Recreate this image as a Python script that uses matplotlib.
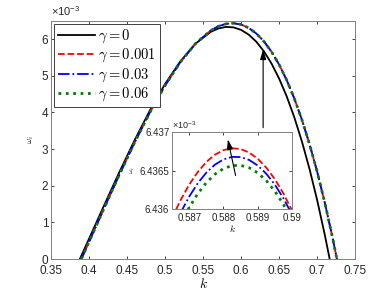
import matplotlib
matplotlib.use("Agg")
import matplotlib.pyplot as plt

plt.rcParams["font.family"] = ["Liberation Sans", "DejaVu Sans"]
plt.rcParams["mathtext.fontset"] = "cm"

# growth rate omega_i (units of 1e-3) against wavenumber k
k_main = [0.388, 0.40, 0.42, 0.44, 0.46, 0.48, 0.50, 0.52, 0.54, 0.56, 0.57, 0.58,
          0.59, 0.60, 0.61, 0.62, 0.63, 0.64, 0.65, 0.66, 0.67, 0.68, 0.69, 0.70,
          0.71, 0.7165]
w_gamma0 = [0.0, 0.550, 1.470, 2.375, 3.243, 4.052, 4.776, 5.393, 5.876, 6.199, 6.292,
            6.335, 6.323, 6.254, 6.125, 5.932, 5.670, 5.336, 4.927, 4.439, 3.867,
            3.207, 2.457, 1.612, 0.668, 0.0]

k_gamma = [0.390, 0.40, 0.42, 0.44, 0.46, 0.48, 0.50, 0.52, 0.54, 0.56, 0.57, 0.58,
           0.5884, 0.59, 0.60, 0.61, 0.62, 0.63, 0.64, 0.65, 0.66, 0.67, 0.68, 0.69,
           0.70, 0.71, 0.72, 0.726]
# gamma = 0.001, 0.03, 0.06 coincide at this scale
w_gamma = [0.0, 0.464, 1.392, 2.304, 3.180, 3.998, 4.735, 5.370, 5.878, 6.236, 6.351,
           6.418, 6.4365, 6.436, 6.401, 6.309, 6.156, 5.941, 5.659, 5.308, 4.883,
           4.382, 3.801, 3.137, 2.386, 1.544, 0.608, 0.0]

# zoom near the maximum
k_zoom = [0.5865, 0.58675, 0.5870, 0.58725, 0.5875, 0.58775, 0.5880, 0.58825,
          0.5885, 0.58875, 0.5890, 0.58925, 0.5895, 0.58975, 0.5900]
w_zoom_001 = [6.435883, 6.436117, 6.436317, 6.436481, 6.436611, 6.436705, 6.436765,
              6.436789, 6.436779, 6.436733, 6.436653, 6.436537, 6.436387, 6.436201,
              6.435981]
w_zoom_03 = [6.435711, 6.435954, 6.436162, 6.436335, 6.436473, 6.436576, 6.436644,
             6.436677, 6.436675, 6.436637, 6.436565, 6.436458, 6.436316, 6.436139,
             6.435927]
w_zoom_06 = [6.435559, 6.435808, 6.436021, 6.436200, 6.436343, 6.436452, 6.436525,
             6.436564, 6.436567, 6.436536, 6.436469, 6.436368, 6.436231, 6.436060,
             6.435853]

labels = [r"$\gamma = 0$", r"$\gamma = 0.001$", r"$\gamma = 0.03$", r"$\gamma = 0.06$"]
styles = [("black", "-", 1.3), ("#ff0000", "--", 1.3), ("#0000ff", "-.", 1.3),
          ("#008000", ":", 2.0)]
axcol = "#262626"


def style_axes(a, size, xpad=2):
    a.tick_params(direction="in", top=True, right=True, length=2.5, width=0.6,
                  labelsize=size, colors=axcol, pad=2)
    a.tick_params(axis="x", pad=xpad)
    for s in a.spines.values():
        s.set_color("#808080")
        s.set_linewidth(0.7)


fig = plt.figure(figsize=(3.92, 2.94), dpi=100)
ax = fig.add_axes([0.130, 0.119, 0.776, 0.810])

ax.plot(k_main, w_gamma0, color=styles[0][0], ls=styles[0][1], lw=styles[0][2], label=labels[0])
for (c, ls, lw), lab in zip(styles[1:], labels[1:]):
    ax.plot(k_gamma, w_gamma, color=c, ls=ls, lw=lw, label=lab)

ax.set_xlim(0.35, 0.75)
ax.set_ylim(0, 6.5)
ax.set_xticks([0.35, 0.4, 0.45, 0.5, 0.55, 0.6, 0.65, 0.7, 0.75])
ax.set_xticklabels(["0.35", "0.4", "0.45", "0.5", "0.55", "0.6", "0.65", "0.7", "0.75"])
ax.set_yticks([0, 1, 2, 3, 4, 5, 6])
style_axes(ax, 8.5, xpad=4.5)
ax.set_xlabel(r"$k$", fontsize=10, labelpad=0)
ax.set_ylabel(r"$\omega_i$", fontsize=6, labelpad=4)
ax.text(0.0, 1.012, r"$\mathregular{\times10^{-3}}$", transform=ax.transAxes, fontsize=8,
        color=axcol, va="bottom", ha="left")

leg = ax.legend(loc="upper left", fontsize=10.5, handlelength=2.6, handletextpad=0.2,
                labelspacing=0.15, borderpad=0.25, borderaxespad=0.2, fancybox=False,
                framealpha=1)
leg.get_frame().set_edgecolor("#404040")
leg.get_frame().set_linewidth(0.7)

ax.annotate("", xy=(0.629, 5.80), xytext=(0.629, 3.51),
            arrowprops=dict(arrowstyle="-|>,head_length=0.6,head_width=0.18",
                            color="black", lw=0.8))

ins = fig.add_axes([0.439, 0.289, 0.306, 0.262])
ins.plot(k_zoom, w_zoom_001, color=styles[1][0], ls=styles[1][1], lw=1.3)
ins.plot(k_zoom, w_zoom_03, color=styles[2][0], ls=styles[2][1], lw=1.3)
ins.plot(k_zoom, w_zoom_06, color=styles[3][0], ls=styles[3][1], lw=2.0)
ins.set_xlim(0.5865, 0.590)
ins.set_ylim(6.436, 6.437)
ins.set_xticks([0.587, 0.588, 0.589, 0.590])
ins.set_xticklabels(["0.587", "0.588", "0.589", "0.59"])
ins.set_yticks([6.436, 6.4365, 6.437])
ins.set_yticklabels(["6.436", "6.4365", "6.437"])
style_axes(ins, 7, xpad=3)
ins.set_xlabel(r"$k$", fontsize=7, labelpad=0)
ins.set_ylabel(r"$\omega_i$", fontsize=5, labelpad=2)
ins.text(0.0, 1.015, r"$\mathregular{\times10^{-3}}$", transform=ins.transAxes, fontsize=6.5,
         color=axcol, va="bottom", ha="left")
ins.annotate("", xy=(0.58811, 6.43694), xytext=(0.58837, 6.43640),
             arrowprops=dict(arrowstyle="-|>,head_length=0.6,head_width=0.18",
                             color="black", lw=0.8))

fig.savefig("out.png", dpi=100)
